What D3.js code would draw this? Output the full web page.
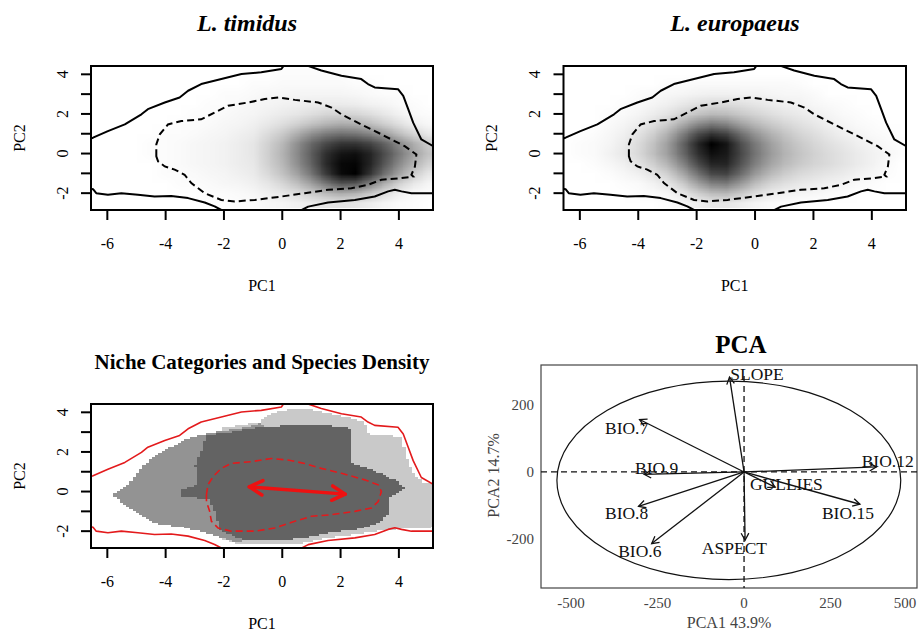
<!DOCTYPE html>
<html><head><meta charset="utf-8">
<script src="https://cdn.jsdelivr.net/npm/d3@7"></script>
<style>body{margin:0;background:#fff} text{font-family:"Liberation Serif","Times New Roman",serif}</style>
</head><body>
<script>
// ---------------- DATA ----------------
const pcXDomain = [-6.56, 5.17];
const pcYDomain = [-2.85, 4.42];
const xTickValues = [-6, -4, -2, 0, 2, 4];
const yTickValues = [-2, -1, 0, 1, 2, 3, 4];
const yTickLabels = [-2, 0, 2, 4];

// density grid (darkness 0-100), columns = densX, rows = densY
const densX = [-6.5,-6,-5.5,-5,-4.5,-4,-3.5,-3,-2.5,-2,-1.5,-1,-0.5,0,0.5,1,1.5,2,2.5,3,3.5,4,4.5,5];
const densY = [4,3.5,3,2.5,2,1.5,1,0.5,0,-0.5,-1,-1.5,-2,-2.5];
const timidusDensity = [
  [0,0,0,0,0,0,0,0,0,0,0,0,0,1,1,1,1,1,0,0,0,0,0,0],
  [0,0,0,0,0,0,0,0,0,0,0,1,1,2,2,2,2,2,1,1,0,0,0,0],
  [0,0,0,0,0,0,0,0,0,1,1,2,3,3,4,4,4,4,3,2,1,1,0,0],
  [0,0,0,0,0,0,0,0,1,1,2,3,4,5,6,7,8,8,7,5,4,2,1,0],
  [0,0,0,0,0,0,0,1,1,2,3,4,6,8,10,13,16,17,16,13,9,5,2,1],
  [0,0,0,0,0,0,1,1,2,3,4,6,9,13,18,24,29,32,31,26,19,12,6,3],
  [0,0,0,0,0,1,1,2,3,4,6,8,14,21,32,44,52,56,54,48,38,26,16,9],
  [0,0,0,0,1,1,2,3,4,5,7,10,18,28,44,60,72,80,80,74,62,46,32,20],
  [0,0,0,0,1,1,2,3,4,5,7,10,19,30,46,64,82,92,94,86,70,52,36,24],
  [0,0,0,0,0,1,2,3,4,5,7,9,18,28,44,62,84,97,98,86,66,46,30,18],
  [0,0,0,0,0,1,1,2,3,4,6,8,15,24,37,55,78,96,100,80,56,36,20,10],
  [0,0,0,0,0,0,1,1,2,3,4,6,10,16,25,38,54,68,66,50,32,18,9,4],
  [0,0,0,0,0,0,0,0,1,1,2,3,6,9,13,20,27,32,30,22,13,6,2,1],
  [0,0,0,0,0,0,0,0,0,0,1,1,3,4,6,8,10,11,10,7,4,2,1,0]
];
const europaeusDensity = [
  [0,0,0,0,0,0,0,0,0,0,0,0,0,0,0,0,0,0,0,0,0,0,0,0],
  [0,0,0,0,0,0,0,1,1,2,2,2,2,2,2,2,1,0,0,0,0,0,0,0],
  [0,0,0,0,0,1,2,3,4,5,6,6,5,5,4,3,3,2,0,0,0,0,0,0],
  [0,0,0,0,1,2,4,6,9,12,14,14,12,10,8,6,5,3,2,1,0,0,0,0],
  [0,0,0,1,2,4,7,11,17,23,27,26,21,17,13,10,8,6,4,2,1,0,0,0],
  [0,0,0,2,4,7,12,20,32,45,52,48,37,28,21,16,12,9,6,4,2,1,0,0],
  [0,0,1,3,6,11,19,31,50,70,80,74,57,42,31,23,17,13,9,6,4,2,1,0],
  [0,1,2,4,8,14,24,38,60,84,100,92,70,52,38,28,21,16,12,9,6,4,2,1],
  [0,1,2,5,9,15,25,38,58,80,94,90,72,54,40,30,23,18,14,11,8,5,3,1],
  [0,0,1,3,6,11,19,30,48,70,86,86,68,50,36,27,21,17,14,11,8,5,2,0],
  [0,0,0,1,3,6,11,19,34,54,72,74,58,40,28,20,15,12,10,8,5,3,1,0],
  [0,0,0,0,1,2,5,10,20,36,50,52,40,26,17,12,9,7,5,4,2,1,0,0],
  [0,0,0,0,0,1,2,4,9,18,26,28,21,13,8,5,4,3,2,1,0,0,0,0],
  [0,0,0,0,0,0,0,1,3,6,9,10,7,4,2,1,0,0,0,0,0,0,0,0]
];

// environmental contours (PC1, PC2)
const envUpper = [[-6.8,0.65],[-6.49,0.80],[-5.98,1.13],[-5.40,1.47],[-4.83,1.98],[-4.61,2.24],[-4.03,2.58],[-3.52,2.83],[-3.23,3.17],[-2.78,3.51],[-2.09,3.76],[-1.40,4.02],[-0.72,4.10],[-0.03,4.27],[0.09,4.52],[0.25,4.7],[0.65,4.7],[0.83,4.45],[1.34,4.19],[2.03,3.93],[2.71,3.76],[2.94,3.51],[3.17,3.34],[3.97,3.25],[4.15,2.91],[4.32,2.24],[4.49,1.56],[4.77,0.71],[5.18,0.37],[5.4,0.35]];
const envLower = [[-6.8,-1.7],[-6.49,-1.80],[-6.38,-2.00],[-5.98,-2.08],[-5.52,-2.00],[-4.95,-2.08],[-4.38,-2.17],[-3.81,-2.14],[-3.23,-2.25],[-2.66,-2.47],[-2.32,-2.67],[-2.09,-2.85],[-1.9,-3.1],[0.5,-3.1],[0.67,-2.85],[0.89,-2.68],[1.57,-2.47],[2.49,-2.34],[3.17,-2.17],[3.63,-1.91],[3.86,-1.83],[4.09,-1.91],[4.43,-2.00],[5.18,-2.00],[5.4,-2.0]];
const envInner = [[-4.32,-0.14],[-4.32,0.46],[-4.20,0.97],[-3.92,1.47],[-3.46,1.64],[-2.78,1.73],[-2.32,2.07],[-1.86,2.41],[-1.17,2.58],[-0.60,2.75],[-0.14,2.83],[0.43,2.71],[1.23,2.58],[1.69,2.32],[2.03,1.98],[2.71,1.47],[3.40,0.97],[4.20,0.37],[4.60,-0.05],[4.55,-0.65],[4.43,-1.07],[4.49,-1.16],[4.09,-1.24],[3.40,-1.32],[2.94,-1.58],[2.37,-1.75],[1.57,-1.83],[0.77,-2.00],[-0.03,-2.17],[-0.94,-2.34],[-1.63,-2.42],[-2.09,-2.34],[-2.66,-2.00],[-3.12,-1.49],[-3.35,-1.07],[-3.69,-0.81],[-4.03,-0.65],[-4.26,-0.39]];
const nicheInner = [[-2.60,-0.16],[-2.55,0.34],[-2.37,0.76],[-2.09,1.17],[-1.75,1.42],[-1.06,1.51],[-0.37,1.67],[0.20,1.59],[0.77,1.42],[1.34,1.17],[2.03,0.92],[2.83,0.59],[3.29,0.34],[3.40,0.00],[3.29,-0.50],[3.06,-0.83],[2.49,-1.00],[1.69,-1.17],[1.00,-1.25],[0.43,-1.50],[-0.26,-1.84],[-0.94,-2.00],[-1.75,-2.00],[-2.20,-1.84],[-2.43,-1.50],[-2.49,-1.00],[-2.60,-0.50]];

// niche categories
const nicheCategories = ["L. timidus only", "L. europaeus only", "Overlap"];
const lightPoly = [[-0.76,3.50],[-0.53,3.83],[-0.08,4.08],[0.84,4.17],[1.64,3.92],[2.67,3.58],[2.90,3.33],[2.95,2.91],[4.09,2.76],[4.15,2.34],[4.32,1.34],[4.66,0.67],[4.89,0.42],[5.4,0.42],[5.4,-1.75],[4.80,-1.84],[3.63,-1.92],[2.49,-2.17],[1.57,-2.34],[0.77,-2.59],[0.2,-2.70],[-1.17,-2.67],[-1.63,-2.59],[-2.0,-2.4],[-2.0,3.2]];
const mediumPoly = [[-5.85,-0.15],[-5.29,0.34],[-4.95,1.01],[-4.49,1.67],[-3.92,2.18],[-3.35,2.59],[-3.05,2.74],[-2.36,2.99],[-1.22,3.25],[-0.76,3.45],[-0.5,3.0],[-0.5,-2.3],[-1.6,-2.55],[-2.09,-2.34],[-2.78,-2.0],[-3.58,-1.75],[-4.38,-1.58],[-4.95,-1.08],[-5.52,-0.5]];
const darkPoly = [[-2.59,2.83],[-1.79,2.99],[-1.10,3.16],[-0.53,3.28],[0.50,3.33],[1.30,3.33],[2.21,3.25],[2.37,3.08],[2.37,1.45],[2.90,1.20],[3.40,0.90],[3.97,0.51],[4.20,0.17],[3.66,-0.33],[3.69,-1.0],[3.29,-1.58],[2.49,-1.92],[1.57,-2.09],[0.77,-2.34],[-0.26,-2.50],[-1.40,-2.42],[-2.09,-2.00],[-2.32,-1.00],[-2.55,-0.33],[-3.52,-0.25],[-3.46,0.09],[-3.00,0.34],[-2.89,0.67],[-3.00,1.34],[-2.76,2.08],[-2.60,2.84]];
const centroidShift = [[-1.13, 0.24], [2.16, -0.13]];

// PCA
const pcaXDomain = [-587, 500];
const pcaYDomain = [-345, 318];
const pcaXTicks = [-500, -250, 0, 250, 500];
const pcaYTicks = [-200, 0, 200];
const pcaVars   = ["SLOPE","BIO.7","BIO.12","BIO.9","GULLIES","BIO.15","BIO.8","BIO.6","ASPECT"];
const pcaLoadX  = [-42, -302, 383, -289, 90, 335, -305, -267, 3];
const pcaLoadY  = [282, 156, 15, -7, -45, -96, -102, -213, -203];
const pcaLabelX = [-40, -402, 340, -315, 17, 225, -402, -364, -122];
const pcaLabelY = [291, 131, 34, 12, -36, -121, -122, -234, -226];
const pcaEllipse = {cx: -44, cy: -25, rx: 497, ry: 295};

// ---------------- DRAW ----------------
const W = 923, H = 634;
const svg = d3.select("body").append("svg").attr("width", W).attr("height", H).style("display","block");
svg.append("rect").attr("width", W).attr("height", H).attr("fill", "#fff");
const defs = svg.append("defs");

function makePanel(id, box) {
  const x = d3.scaleLinear().domain(pcXDomain).range([box.x0, box.x1]);
  const y = d3.scaleLinear().domain(pcYDomain).range([box.y1, box.y0]);
  defs.append("clipPath").attr("id", "clip" + id).append("rect")
    .attr("x", box.x0).attr("y", box.y0).attr("width", box.x1 - box.x0).attr("height", box.y1 - box.y0);
  const g = svg.append("g");
  const inner = g.append("g").attr("clip-path", `url(#clip${id})`);
  return {x, y, g, inner, box};
}

function densityImage(p, grid) {
  const c = document.createElement("canvas");
  c.width = densX.length; c.height = densY.length;
  const ctx = c.getContext("2d");
  const img = ctx.createImageData(c.width, c.height);
  grid.forEach((row, r) => row.forEach((v, k) => {
    const gv = Math.round(255 * (1 - v / 100));
    const i = (r * c.width + k) * 4;
    img.data[i] = img.data[i+1] = img.data[i+2] = gv; img.data[i+3] = 255;
  }));
  ctx.putImageData(img, 0, 0);
  const hx = (densX[1] - densX[0]) / 2, hy = (densY[0] - densY[1]) / 2;
  const x0 = p.x(densX[0] - hx), x1 = p.x(densX[densX.length-1] + hx);
  const y0 = p.y(densY[0] + hy), y1 = p.y(densY[densY.length-1] - hy);
  p.inner.append("image").attr("href", c.toDataURL())
    .attr("x", x0).attr("y", y0).attr("width", x1 - x0).attr("height", y1 - y0)
    .attr("preserveAspectRatio", "none");
}

function contours(p, color, w, innerPts) {
  const line = d3.line().x(d => p.x(d[0])).y(d => p.y(d[1]));
  [envUpper, envLower].forEach(pts => p.inner.append("path").attr("d", line(pts))
    .attr("fill", "none").attr("stroke", color).attr("stroke-width", w).attr("stroke-linejoin","round"));
  p.inner.append("path").attr("d", line.curve(d3.curveLinearClosed)(innerPts))
    .attr("fill", "none").attr("stroke", color).attr("stroke-width", w)
    .attr("stroke-dasharray", "7,4");
}

function axes(p, title, titleX, titleY, titleStyle) {
  const {x, y, g, box} = p;
  g.append("rect").attr("x", box.x0).attr("y", box.y0).attr("width", box.x1 - box.x0).attr("height", box.y1 - box.y0)
    .attr("fill", "none").attr("stroke", "#000").attr("stroke-width", 2);
  g.selectAll(null).data(xTickValues).join("line")
    .attr("x1", d => x(d)).attr("x2", d => x(d)).attr("y1", box.y1).attr("y2", box.y1 + 10)
    .attr("stroke", "#000").attr("stroke-width", 2);
  g.selectAll(null).data(yTickValues).join("line")
    .attr("y1", d => y(d)).attr("y2", d => y(d)).attr("x1", box.x0).attr("x2", box.x0 - 10)
    .attr("stroke", "#000").attr("stroke-width", 2);
  g.selectAll(null).data(xTickValues).join("text")
    .attr("x", d => x(d)).attr("y", box.y1 + 33).attr("text-anchor", "middle").attr("dominant-baseline", "central")
    .attr("font-size", 16).text(d => d);
  g.selectAll(null).data(yTickLabels).join("text")
    .attr("transform", d => `translate(${box.x0 - 29},${y(d)}) rotate(-90)`)
    .attr("text-anchor", "middle").attr("dominant-baseline", "central").attr("font-size", 16).text(d => d);
  g.append("text").attr("x", (box.x0 + box.x1) / 2).attr("y", box.y1 + 75)
    .attr("text-anchor", "middle").attr("dominant-baseline", "central").attr("font-size", 16).text("PC1");
  g.append("text").attr("transform", `translate(${box.x0 - 72},${(box.y0 + box.y1) / 2}) rotate(-90)`)
    .attr("text-anchor", "middle").attr("dominant-baseline", "central").attr("font-size", 16).text("PC2");
  const t = g.append("text").attr("x", titleX).attr("y", titleY).attr("text-anchor", "middle")
    .attr("dominant-baseline", "central").attr("font-weight", "bold").attr("font-size", titleStyle.size).text(title);
  if (titleStyle.italic) t.attr("font-style", "italic");
}

// Panel 1: L. timidus
const p1 = makePanel(1, {x0: 91, x1: 433, y0: 66, y1: 210});
densityImage(p1, timidusDensity);
contours(p1, "#000", 2, envInner);
axes(p1, "L. timidus", 247, 23, {size: 24, italic: true});

// Panel 2: L. europaeus
const p2 = makePanel(2, {x0: 563.5, x1: 906, y0: 66, y1: 210});
densityImage(p2, europaeusDensity);
contours(p2, "#000", 2, envInner);
axes(p2, "L. europaeus", 735, 23, {size: 24, italic: true});

// Panel 3: Niche categories
const p3 = makePanel(3, {x0: 91, x1: 433, y0: 404, y1: 548});
{
  const stepX = 0.11, stepY = 0.1;
  const polys = [lightPoly, mediumPoly, darkPoly];
  const cells = [];
  for (let yv = pcYDomain[0]; yv < pcYDomain[1]; yv += stepY) {
    let run = null;
    for (let xv = pcXDomain[0]; xv < pcXDomain[1] + stepX; xv += stepX) {
      const pt = [xv + stepX / 2, yv + stepY / 2];
      let cat = -1;
      for (let k = 2; k >= 0; k--) { if (d3.polygonContains(polys[k], pt)) { cat = k; break; } }
      if (run && run.cat === cat) { run.x1 = xv + stepX; }
      else {
        if (run && run.cat >= 0) cells.push(run);
        run = {cat, x0: xv, x1: xv + stepX, y0: yv, y1: yv + stepY};
      }
    }
    if (run && run.cat >= 0) cells.push(run);
  }
  const catColor = d3.scaleOrdinal().domain([0, 1, 2]).range(["#c9c9c9", "#939393", "#636363"]);
  p3.inner.append("g").attr("shape-rendering", "crispEdges").selectAll("rect").data(cells).join("rect")
    .attr("x", d => p3.x(d.x0)).attr("width", d => p3.x(d.x1) - p3.x(d.x0) + 0.3)
    .attr("y", d => p3.y(d.y1)).attr("height", d => p3.y(d.y0) - p3.y(d.y1) + 0.3)
    .attr("fill", d => catColor(d.cat));
}
contours(p3, "#e31a1c", 1.6, nicheInner);
{
  const [a, b] = centroidShift;
  const ax = p3.x(a[0]), ay = p3.y(a[1]), bx = p3.x(b[0]), by = p3.y(b[1]);
  const ang = Math.atan2(by - ay, bx - ax), L = 15, spread = 0.5;
  const red = "#ee1111";
  const gA = p3.g.append("g").attr("stroke", red).attr("stroke-width", 3.5).attr("stroke-linecap", "round").attr("fill", "none");
  gA.append("line").attr("x1", ax).attr("y1", ay).attr("x2", bx).attr("y2", by);
  const head = (hx, hy, dir) => {
    const pts = [[hx + L * Math.cos(dir + spread), hy + L * Math.sin(dir + spread)], [hx, hy],
                 [hx + L * Math.cos(dir - spread), hy + L * Math.sin(dir - spread)]];
    gA.append("path").attr("d", d3.line()(pts)).attr("stroke-linejoin", "round");
  };
  head(bx, by, ang + Math.PI);
  head(ax, ay, ang);
}
axes(p3, "Niche Categories and Species Density", 262, 362, {size: 21, italic: false});

// Panel 4: PCA
{
  const box = {x0: 541, x1: 917, y0: 365, y1: 588};
  const x = d3.scaleLinear().domain(pcaXDomain).range([box.x0, box.x1]);
  const y = d3.scaleLinear().domain(pcaYDomain).range([box.y1, box.y0]);
  const g = svg.append("g");
  g.append("rect").attr("x", box.x0).attr("y", box.y0).attr("width", box.x1 - box.x0).attr("height", box.y1 - box.y0)
    .attr("fill", "none").attr("stroke", "#444").attr("stroke-width", 1.2);
  g.append("ellipse").attr("cx", x(pcaEllipse.cx)).attr("cy", y(pcaEllipse.cy))
    .attr("rx", x(pcaEllipse.rx) - x(0)).attr("ry", y(0) - y(pcaEllipse.ry))
    .attr("fill", "none").attr("stroke", "#111").attr("stroke-width", 1.2);
  g.append("line").attr("x1", box.x0).attr("x2", box.x1).attr("y1", y(0)).attr("y2", y(0))
    .attr("stroke", "#111").attr("stroke-width", 1.3).attr("stroke-dasharray", "6,4");
  g.append("line").attr("x1", x(0)).attr("x2", x(0)).attr("y1", y(285)).attr("y2", box.y1)
    .attr("stroke", "#111").attr("stroke-width", 1.3).attr("stroke-dasharray", "6,4");
  const ag = g.append("g").attr("stroke", "#111").attr("stroke-width", 1.3).attr("fill", "none");
  pcaVars.forEach((v, i) => {
    const x0 = x(0), y0 = y(0), x1 = x(pcaLoadX[i]), y1 = y(pcaLoadY[i]);
    ag.append("line").attr("x1", x0).attr("y1", y0).attr("x2", x1).attr("y2", y1);
    const ang = Math.atan2(y0 - y1, x0 - x1), L = 8, s = 0.5;
    ag.append("path").attr("d", d3.line()([[x1 + L * Math.cos(ang + s), y1 + L * Math.sin(ang + s)], [x1, y1],
      [x1 + L * Math.cos(ang - s), y1 + L * Math.sin(ang - s)]]));
  });
  g.selectAll(null).data(pcaVars).join("text")
    .attr("x", (d, i) => x(pcaLabelX[i])).attr("y", (d, i) => y(pcaLabelY[i]))
    .attr("dominant-baseline", "central").attr("font-size", 17.5).attr("fill", "#111").text(d => d);
  g.selectAll(null).data(pcaXTicks).join("text")
    .attr("x", d => Math.min(x(d), box.x1 - 12)).attr("y", box.y1 + 15)
    .attr("text-anchor", "middle").attr("dominant-baseline", "central").attr("font-size", 15).attr("fill", "#444").text(d => d);
  g.selectAll(null).data(pcaYTicks).join("text")
    .attr("x", box.x0 - 7).attr("y", d => y(d))
    .attr("text-anchor", "end").attr("dominant-baseline", "central").attr("font-size", 15).attr("fill", "#444").text(d => d);
  g.append("text").attr("x", 729).attr("y", 622).attr("text-anchor", "middle").attr("dominant-baseline", "central")
    .attr("font-size", 16).attr("fill", "#444").text("PCA1 43.9%");
  g.append("text").attr("transform", `translate(493,${(box.y0 + box.y1) / 2 - 1}) rotate(-90)`)
    .attr("text-anchor", "middle").attr("dominant-baseline", "central").attr("font-size", 16).attr("fill", "#444").text("PCA2 14.7%");
  g.append("text").attr("x", 741).attr("y", 344).attr("text-anchor", "middle").attr("dominant-baseline", "central")
    .attr("font-size", 25).attr("font-weight", "bold").text("PCA");
}
</script></body></html>
